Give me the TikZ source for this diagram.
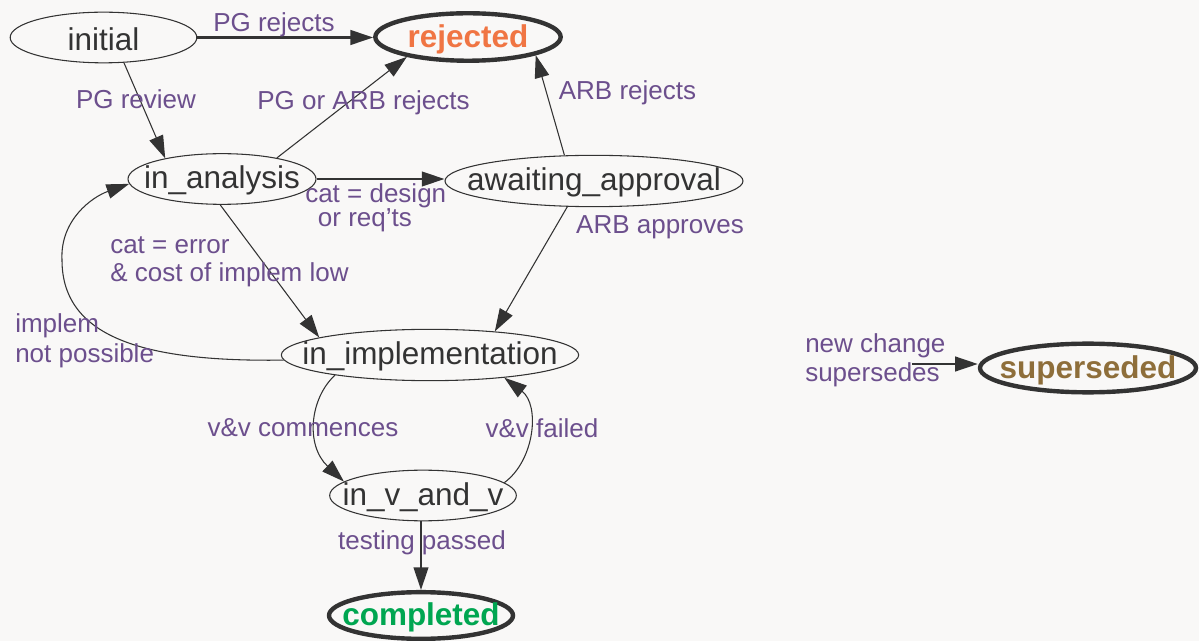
\documentclass[tikz,border=0pt]{standalone}
\usepackage{fontspec}
\setmainfont{Liberation Sans}
\usetikzlibrary{shapes.geometric,arrows.meta}
\definecolor{bg}{HTML}{F9F8F7}
\definecolor{ink}{HTML}{333333}
\definecolor{lbl}{HTML}{6C4F8D}
\definecolor{rej}{HTML}{F07543}
\definecolor{comp}{HTML}{00A651}
\definecolor{sup}{HTML}{8E6E3A}
\begin{document}
\begin{tikzpicture}[x=0.75pt,y=-0.75pt,
  state/.style={ellipse, draw=ink, line width=0.8pt, inner sep=0pt},
  final/.style={state, line width=3.3pt},
  stext/.style={text=ink, inner sep=0pt, yshift=-1pt, font=\fontsize{23.6}{26}\selectfont},
  ftext/.style={inner sep=0pt, yshift=-1.5pt, font=\fontsize{23.6}{26}\selectfont\bfseries},
  lab/.style={text=lbl, font=\fontsize{19.5}{21.75}\selectfont, inner sep=0pt, align=left, yshift=-2pt},
  edge/.style={draw=ink, line width=0.8pt, -{Triangle[length=17pt,width=11pt]}},
  thickedge/.style={edge, line width=1.6pt}]
\fill[bg] (0,0) rectangle (1199,641);
\useasboundingbox (0,0) rectangle (1199,641);

% states
\node[state, minimum width=140pt, minimum height=38pt,
  label={[stext]center:initial}] (initial) at (103.5,37.5) {};
\node[final, minimum width=139pt, minimum height=35.6pt,
  label={[ftext,text=rej]center:rejected}] (rejected) at (468,37) {};
\node[state, minimum width=141pt, minimum height=38pt,
  label={[stext]center:in\_analysis}] (analysis) at (222,179) {};
\node[state, minimum width=223.5pt, minimum height=38.5pt,
  label={[stext]center:awaiting\_approval}] (awaiting) at (594,181) {};
\node[state, minimum width=223pt, minimum height=38.5pt,
  label={[stext]center:in\_implementation}] (impl) at (430,355) {};
\node[state, minimum width=140pt, minimum height=38pt,
  label={[stext]center:in\_v\_and\_v}] (vandv) at (423,495.5) {};
\node[final, minimum width=138pt, minimum height=35pt,
  label={[ftext,text=comp]center:completed}] (completed) at (421,615.5) {};
\node[final, minimum width=162pt, minimum height=36.5pt,
  label={[ftext,text=sup]center:superseded}] (superseded) at (1088,368) {};
\coordinate (newsrc) at (912,364);

% connectors
\draw[thickedge] (initial.east) -- (initial.east -| rejected.west);
\draw[edge] (initial.-51.5) -- (analysis.160);
\draw[edge] (analysis.21.8) -- (rejected.198);
\draw[thickedge] (analysis.east) -- (analysis.east -| awaiting.west);
\draw[edge] (awaiting.139) -- (rejected.-15);
\draw[edge] (awaiting.224) -- (impl.20);
\draw[edge] (analysis.266) -- (impl.171);
\draw[edge] (impl.182) .. controls (150,362) and (62,340) .. (62,260)
   .. controls (60,220) and (92,197) .. (analysis.183);
\draw[edge] (impl.192.8) .. controls (310,398) and (305,445) .. (vandv.170);
\draw[edge] (vandv.9) .. controls (535,460) and (540,405) .. (impl.-17.9);
\draw[thickedge] (vandv.south -| completed) -- (completed.north);
\draw[thickedge] (newsrc) -- (newsrc -| superseded.west);

% labels
\node[lab] (l1) at (274,22) {PG rejects};
\node[lab] (l2) at (136,97) {PG review};
\node[lab] (l3) at (363.5,100) {PG or ARB rejects};
\node[lab, anchor=west, font=\fontsize{19.5}{18}\selectfont] (l4) at (305,205) {cat = design\\\hspace*{9.5pt}or req’ts};
\node[lab] (l5) at (627.5,90) {ARB rejects};
\node[lab] (l6) at (660,225) {ARB approves};
\node[lab, anchor=west, font=\fontsize{19.5}{21}\selectfont] (l7) at (110,259) {cat = error\\\& cost of implem low};
\node[lab, anchor=west, font=\fontsize{19.5}{22.5}\selectfont] (l8) at (15,338) {implem\\not possible};
\node[lab] (l9) at (303,425) {v\&v commences};
\node[lab] (l10) at (542,426) {v\&v failed};
\node[lab] (l11) at (422,540) {testing passed};
\node[lab, anchor=west] (l12) at (805,357.5) {new change\\supersedes};
\end{tikzpicture}
\end{document}
